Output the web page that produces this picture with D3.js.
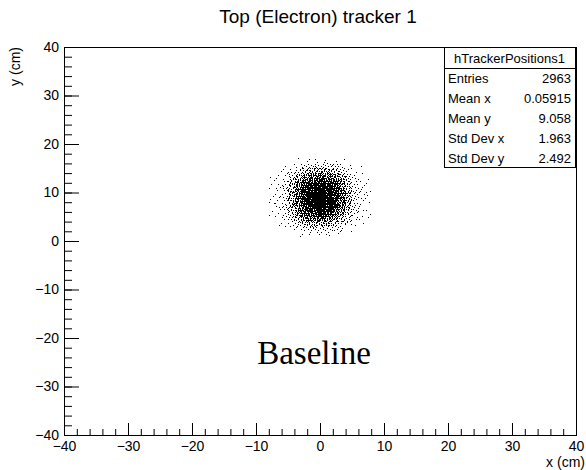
<!DOCTYPE html>
<html>
<head>
<meta charset="utf-8">
<script src="https://cdn.jsdelivr.net/npm/d3@7"></script>
<style>
  body { margin: 0; background: #fff; }
  svg { display: block; }
</style>
</head>
<body>
<svg id="chart" width="586" height="470"></svg>
<script>
// 2D histogram: 1 cm bins, low edges below
const xBins = [-8, -7, -6, -5, -4, -3, -2, -1, 0, 1, 2, 3, 4, 5, 6, 7];
const yBins = [16, 15, 14, 13, 12, 11, 10, 9, 8, 7, 6, 5, 4, 3, 2, 1];
const counts = [
  [0, 0, 0, 0, 1, 1, 2, 2, 2, 1, 1, 1, 0, 0, 0, 0],
  [0, 0, 1, 1, 2, 4, 5, 5, 5, 5, 4, 2, 1, 0, 1, 0],
  [0, 1, 1, 3, 5, 8, 11, 12, 12, 11, 8, 5, 3, 1, 0, 0],
  [1, 1, 2, 5, 9, 15, 20, 22, 22, 20, 15, 9, 5, 2, 1, 0],
  [1, 1, 3, 7, 14, 22, 30, 33, 33, 30, 22, 14, 7, 3, 1, 1],
  [1, 2, 4, 9, 18, 28, 37, 42, 42, 37, 28, 18, 9, 4, 2, 1],
  [1, 2, 4, 10, 21, 33, 43, 48, 48, 43, 33, 21, 10, 4, 2, 1],
  [1, 2, 4, 11, 22, 35, 46, 52, 52, 46, 35, 22, 11, 4, 2, 2],
  [2, 2, 4, 11, 22, 35, 46, 52, 52, 46, 35, 22, 11, 4, 2, 1],
  [1, 2, 4, 10, 21, 33, 43, 48, 48, 43, 33, 21, 10, 4, 2, 1],
  [1, 2, 4, 9, 18, 28, 37, 42, 42, 37, 28, 18, 9, 4, 2, 1],
  [1, 1, 3, 7, 14, 22, 30, 33, 33, 30, 22, 14, 7, 3, 1, 1],
  [0, 1, 2, 5, 9, 15, 20, 22, 22, 20, 15, 9, 5, 2, 1, 1],
  [0, 1, 1, 3, 5, 8, 11, 12, 12, 11, 8, 5, 3, 1, 1, 0],
  [0, 0, 1, 1, 2, 4, 5, 5, 5, 5, 4, 2, 1, 0, 0, 0],
  [0, 0, 0, 0, 1, 1, 2, 2, 2, 2, 1, 1, 0, 0, 0, 0]
];
const binWidth = 1;

const majorTicks = [-40, -30, -20, -10, 0, 10, 20, 30, 40];
const statNames = ["Entries", "Mean x", "Mean y", "Std Dev x", "Std Dev y"];
const statValues = ["2963", "0.05915", "9.058", "1.963", "2.492"];

const FONT = "'Liberation Sans', Arial, Helvetica, sans-serif";
const svg = d3.select("#chart");
const W = 586, H = 470;
const frame = { left: 64, right: 576, top: 47, bottom: 435 };

svg.append("rect").attr("width", W).attr("height", H).attr("fill", "#fff");

const x = d3.scaleLinear().domain([-40, 40]).range([frame.left, frame.right]);
const y = d3.scaleLinear().domain([-40, 40]).range([frame.bottom, frame.top]);

// scatter dots: each count drawn as a 1px dot spread over its bin
const dots = [];
counts.forEach((row, j) => {
  row.forEach((n, i) => {
    const sx = (i * 0.3183 + j * 0.6180) % 1;
    const sy = (i * 0.4142 + j * 0.2718) % 1;
    for (let k = 0; k < n; k++) {
      const u = (sx + (k + 0.5) * 0.7548776662) % 1;
      const v = (sy + (k + 0.5) * 0.5698402910) % 1;
      dots.push([xBins[i] + u * binWidth, yBins[j] + v * binWidth]);
    }
  });
});

svg.append("g")
  .attr("shape-rendering", "crispEdges")
  .selectAll("rect")
  .data(dots)
  .join("rect")
  .attr("x", d => Math.floor(x(d[0])))
  .attr("y", d => Math.floor(y(d[1])))
  .attr("width", 1).attr("height", 1)
  .attr("fill", "#000");

// axes: ticks point inward, minor every 2 cm
const styleAxis = g => {
  g.select(".domain").remove();
  g.selectAll("line").attr("stroke", "#000");
  g.selectAll("text").attr("font-family", FONT).attr("font-size", 14).attr("fill", "#000");
};

svg.append("g")
  .attr("transform", `translate(0,${frame.bottom})`)
  .call(d3.axisBottom(x).tickValues(x.ticks(40)).tickSize(-6).tickFormat(""))
  .call(styleAxis);
svg.append("g")
  .attr("transform", `translate(0,${frame.bottom})`)
  .call(d3.axisBottom(x).tickValues(majorTicks).tickSize(-12).tickPadding(6))
  .call(styleAxis);

svg.append("g")
  .attr("transform", `translate(${frame.left},0)`)
  .call(d3.axisLeft(y).tickValues(y.ticks(40)).tickSize(-8).tickFormat(""))
  .call(styleAxis);
svg.append("g")
  .attr("transform", `translate(${frame.left},0)`)
  .call(d3.axisLeft(y).tickValues(majorTicks).tickSize(-15))
  .call(g => g.selectAll("text").attr("x", -5))
  .call(styleAxis);

svg.append("rect")
  .attr("x", frame.left + 0.5).attr("y", frame.top + 0.5)
  .attr("width", frame.right - frame.left).attr("height", frame.bottom - frame.top)
  .attr("fill", "none").attr("stroke", "#000");

// titles
svg.append("text")
  .attr("x", 318).attr("y", 23)
  .attr("text-anchor", "middle")
  .attr("font-family", FONT).attr("font-size", 19)
  .text("Top (Electron) tracker 1");

svg.append("text")
  .attr("x", W - 1).attr("y", 467)
  .attr("text-anchor", "end")
  .attr("font-family", FONT).attr("font-size", 14)
  .text("x (cm)");

svg.append("text")
  .attr("transform", `translate(20,${frame.top}) rotate(-90)`)
  .attr("text-anchor", "end")
  .attr("font-family", FONT).attr("font-size", 14)
  .text("y (cm)");

// stats box
const box = { x: 444, y: 47, w: 131, h: 120 };
const sb = svg.append("g");
sb.append("rect")
  .attr("x", box.x + 0.5).attr("y", box.y + 0.5)
  .attr("width", box.w).attr("height", box.h)
  .attr("fill", "#fff").attr("stroke", "#000");
sb.append("line")
  .attr("x1", box.x).attr("x2", box.x + box.w)
  .attr("y1", box.y + 21.5).attr("y2", box.y + 21.5)
  .attr("stroke", "#000");
sb.append("text")
  .attr("x", box.x + box.w / 2).attr("y", box.y + 16)
  .attr("text-anchor", "middle")
  .attr("font-family", FONT).attr("font-size", 13)
  .text("hTrackerPositions1");

const rowY = d3.scalePoint().domain(statNames).range([box.y + 36, box.y + 116]);
statNames.forEach((name, i) => {
  sb.append("text")
    .attr("x", box.x + 4).attr("y", rowY(name))
    .attr("font-family", FONT).attr("font-size", 13)
    .text(name);
  sb.append("text")
    .attr("x", box.x + box.w - 4).attr("y", rowY(name))
    .attr("text-anchor", "end")
    .attr("font-family", FONT).attr("font-size", 13)
    .text(statValues[i]);
});

svg.append("text")
  .attr("x", 314).attr("y", 364)
  .attr("text-anchor", "middle")
  .attr("font-family", "'Liberation Serif', 'DejaVu Serif', serif")
  .attr("font-size", 33)
  .text("Baseline");
</script>
</body>
</html>
